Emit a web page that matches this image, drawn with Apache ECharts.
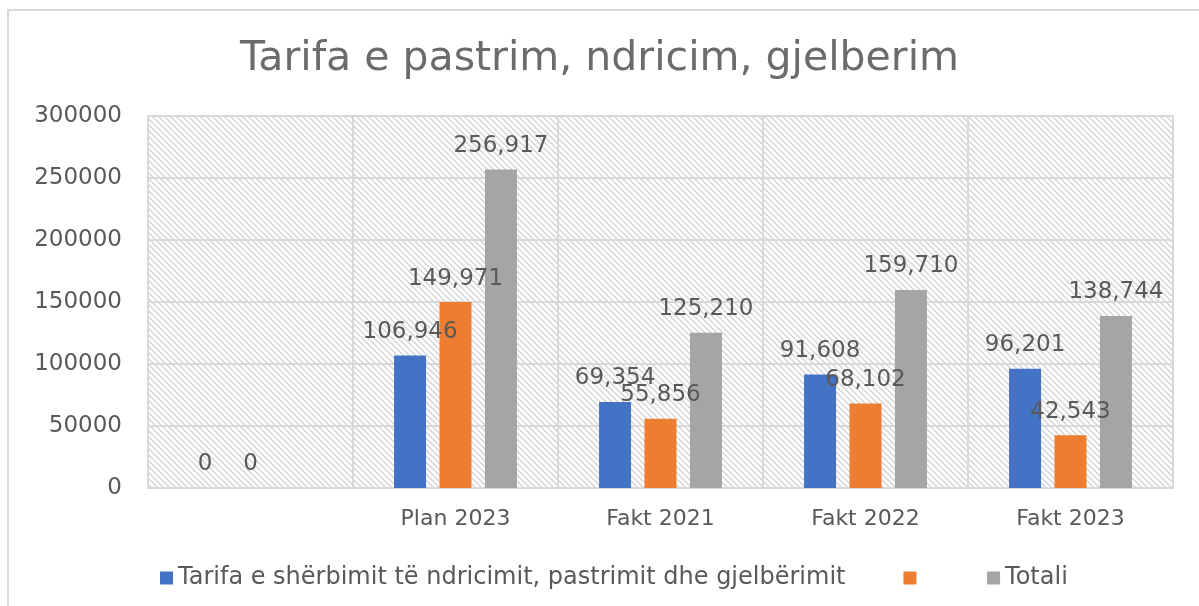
<!doctype html>
<html>
<head>
    <title>Tarifa e pastrim, ndricim, gjelberim</title>
    <meta http-equiv="Content-Type" content="text/html; charset=utf-8"/>
    <script type="text/javascript" src="https://cdn.jsdelivr.net/npm/echarts@6/dist/echarts.min.js"></script>
    <style>
        html, body { margin: 0; padding: 0; background: #fff; overflow: hidden; }
    </style>
</head>
<body>
<div id="main" style="width:1199px;height:606px;"></div>
<script>
// kategorite (e para bosh, si ne origjinal)
var categories = ['', 'Plan 2023', 'Fakt 2021', 'Fakt 2022', 'Fakt 2023'];
var tarifaNames = ['Tarifa e shërbimit të ndricimit, pastrimit dhe gjelbërimit', ' ', 'Totali'];
var tarifa = [0, 106946, 69354, 91608, 96201];
var seria2 = [0, 149971, 55856, 68102, 42543];
var totali = [null, 256917, 125210, 159710, 138744];

// sfondi me vija diagonale
function hatch() {
    var c = document.createElement('canvas');
    c.width = 6; c.height = 6;
    var ctx = c.getContext('2d');
    ctx.fillStyle = '#ffffff';
    ctx.fillRect(0, 0, 6, 6);
    ctx.strokeStyle = '#d4d4d4';
    ctx.lineWidth = 1.4;
    ctx.beginPath();
    ctx.moveTo(-1, -1); ctx.lineTo(7, 7);
    ctx.moveTo(-1, 5); ctx.lineTo(1, 7);
    ctx.moveTo(5, -1); ctx.lineTo(7, 1);
    ctx.stroke();
    return c;
}

var txt = '#595959';
var font = 'DejaVu Sans';

function fmt(p) {
    if (p.value == null) return '';
    return Number(p.value).toLocaleString('en-US');
}

var label = {
    show: true,
    position: 'top',
    distance: 12,
    color: txt,
    fontFamily: font,
    fontSize: 23,
    formatter: fmt
};

var myChart = echarts.init(document.getElementById('main'));

var option = {
    animation: false,
    backgroundColor: '#fff',
    title: {
        text: 'Tarifa e pastrim, ndricim, gjelberim',
        left: 'center',
        top: 34,
        textStyle: { color: '#6b6b6b', fontFamily: font, fontSize: 41, fontWeight: 'normal' }
    },
    graphic: [
        { type: 'polyline', shape: { points: [[8, 606], [8, 10], [1199, 10]] },
          style: { stroke: '#d9d9d9', lineWidth: 2, fill: null }, silent: true }
    ],
    legend: {
        left: 155,
        top: 561,
        itemWidth: 13,
        itemHeight: 13,
        itemGap: 58,
        icon: 'rect',
        textStyle: { color: txt, fontFamily: font, fontSize: 24 },
        data: tarifaNames
    },
    grid: {
        left: 148, right: 26, top: 116, bottom: 118,
        show: true,
        borderColor: '#d9d9d9',
        borderWidth: 2,
        backgroundColor: { image: hatch(), repeat: 'repeat' }
    },
    xAxis: {
        type: 'category',
        data: categories,
        axisLine: { lineStyle: { color: '#d9d9d9', width: 2 } },
        axisTick: { show: false },
        splitLine: { show: true, interval: 0, lineStyle: { color: '#d9d9d9', width: 2 } },
        axisLabel: { color: txt, fontFamily: font, fontSize: 22, margin: 20 }
    },
    yAxis: {
        type: 'value',
        min: 0, max: 300000, interval: 50000,
        axisLine: { show: false },
        axisTick: { show: false },
        splitLine: { lineStyle: { color: '#d9d9d9', width: 2 } },
        axisLabel: { color: txt, fontFamily: font, fontSize: 23, margin: 26,
                     formatter: function (v) { return String(v); } }
    },
    series: [
        { name: tarifaNames[0], type: 'bar', data: tarifa, barWidth: 32, barGap: '42%',
          itemStyle: { color: '#4472C4' }, label: label },
        { name: tarifaNames[1], type: 'bar', data: seria2, barWidth: 32, barGap: '42%',
          itemStyle: { color: '#ED7D31' }, label: label },
        { name: tarifaNames[2], type: 'bar', data: totali, barWidth: 32, barGap: '42%',
          itemStyle: { color: '#A5A5A5' }, label: label }
    ]
};

myChart.setOption(option);
</script>
</body>
</html>
